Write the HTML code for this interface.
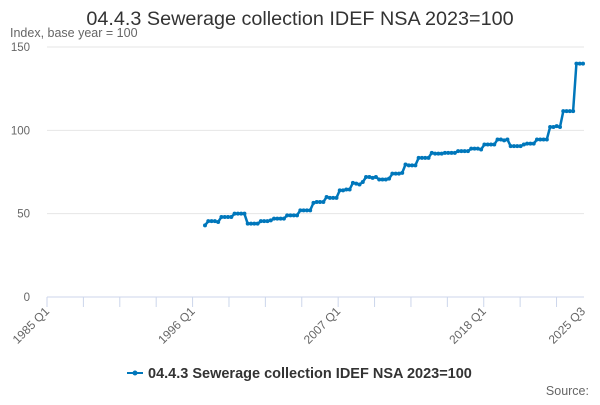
<!DOCTYPE html>
<html><head><meta charset="utf-8"><style>
body{margin:0;background:#fff;font-family:"Liberation Sans",sans-serif;}
svg text{font-family:"Liberation Sans",sans-serif;}
</style></head><body>
<svg width="600" height="400" id="c">
<text x="300" y="25" text-anchor="middle" font-size="19.8" fill="#333">04.4.3 Sewerage collection IDEF NSA 2023=100</text>
<text x="10" y="37" font-size="12.5" fill="#666">Index, base year = 100</text>
<g id="grid"></g><g id="xax"></g><g id="series"></g>
<g>
<line x1="127" y1="373" x2="143" y2="373" stroke="#0077bb" stroke-width="2"/>
<circle cx="135" cy="373" r="2.5" fill="#0077bb"/>
<text x="148" y="378" font-size="14.5" font-weight="bold" fill="#333">04.4.3 Sewerage collection IDEF NSA 2023=100</text>
</g>
<text x="589" y="395" text-anchor="end" font-size="12.5" fill="#666">Source:</text>
</svg>
<script>
const yTicks=[0,50,100,150];
const xLabels=["1985 Q1","1996 Q1","2007 Q1","2018 Q1","2025 Q3"];
const xLabelIdx=[0,44,88,132,162];
const startIdx=47;
const values=[43,
45.5,45.5,45.5,45, 48,48,48,48, 50,50,50,50, 44,44,44,44, 45.5,45.5,45.5,46,
47,47,47,47, 49,49,49,49, 52,52,52,52, 56.5,57,57,57, 60,59.5,59.5,59.5,
64,64,64.5,64.5, 68.5,68,67.5,69, 72,72,71.5,72, 70.5,70.5,70.5,71, 74,74,74,74.5,
79.5,79,79,79, 83.5,83.5,83.5,83.5, 86.5,86,86,86, 86.5,86.5,86.5,86.5, 87.5,87.5,87.5,87.5,
89,89,89,88.5, 91.5,91.5,91.5,91.5, 94.5,94.5,94,94.5, 90.5,90.5,90.5,90.5, 91.5,92,92,92,
94.5,94.5,94.5,94.5, 102,102,102.5,102, 111.5,111.5,111.5,111.5, 140,140,140];
const NS="http://www.w3.org/2000/svg";
const X=q=>47+q*(536/162), Y=v=>297-v*(250/150);
const XD=q=>205+(q-startIdx)*(378/115);
function mk(t,a,p){const e=document.createElementNS(NS,t);for(const k in a)e.setAttribute(k,a[k]);p.appendChild(e);return e;}
const grid=document.getElementById('grid');
yTicks.forEach(v=>{
 const l=mk('line',{x1:47,x2:584,y1:Y(v),y2:Y(v),stroke:v?'#e6e6e6':'#ccd6eb'},grid);
 
 
 const t=mk('text',{x:30,y:Y(v)+4,'text-anchor':'end','font-size':11.5,fill:'#666'},grid);
 t.textContent=v;
 
 
});
const xax=document.getElementById('xax');
for(let q=0;q<=162;q+=11){
 const l=mk('line',{x1:X(q),x2:X(q),y1:297,y2:307,stroke:'#ccd6eb'},xax);
 
 
}
xLabels.forEach((s,i)=>{
 const x=X(xLabelIdx[i]);
 const t=mk('text',{x:x+3,y:312,'text-anchor':'end','font-size':12,fill:'#666',transform:`rotate(-45 ${x+3} 312)`},xax);
 t.textContent=s;
 
 
});
const g=document.getElementById('series');
const pts=values.map((v,i)=>XD(startIdx+i).toFixed(1)+','+Y(v).toFixed(1)).join(' ');
const pl=mk('polyline',{points:pts,fill:'none',stroke:'#0077bb','stroke-width':2.5},g);


values.forEach((v,i)=>{
 const c=mk('circle',{cx:XD(startIdx+i),cy:Y(v),r:2,fill:'#0077bb'},g);
 
 
});
</script>
</body></html>
